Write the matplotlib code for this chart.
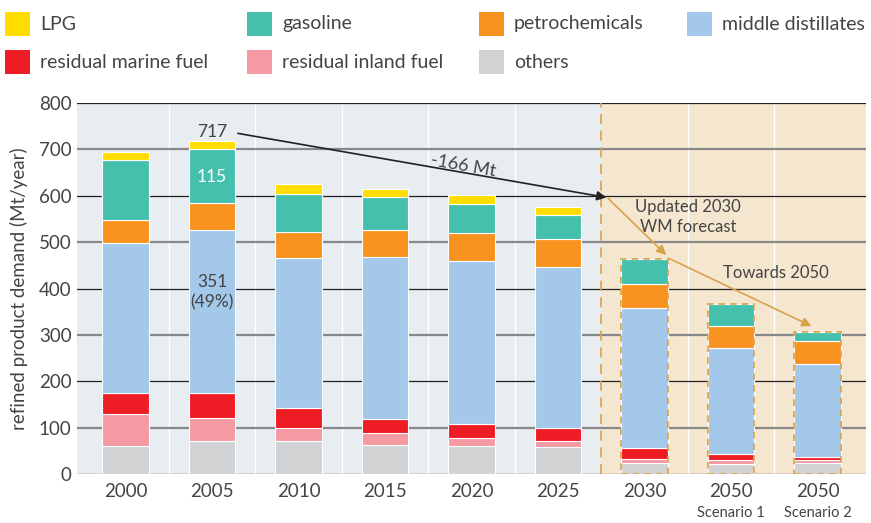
import matplotlib.pyplot as plt
from matplotlib.patches import Rectangle

# data (Mt/year)
years = ["2000", "2005", "2010", "2015", "2020", "2025", "2030", "2050", "2050"]
others = [62, 72, 71, 64, 62, 58, 24, 22, 24]
res_inland = [68, 50, 28, 24, 16, 13, 8, 9, 7]
res_marine = [46, 52, 44, 30, 30, 28, 24, 12, 7]
middle_dist = [321, 351, 323, 349, 351, 347, 301, 228, 199]
petrochem = [50, 60, 55, 60, 61, 61, 53, 48, 51]
gasoline = [129, 115, 83, 70, 63, 51, 54, 47, 18]
lpg = [18, 17, 21, 17, 18, 18, 0, 0, 0]

series = [
    ("others", others, "#d1d2d4"),
    ("residual inland fuel", res_inland, "#f599a3"),
    ("residual marine fuel", res_marine, "#ee1c25"),
    ("middle distillates", middle_dist, "#a3c8ea"),
    ("petrochemicals", petrochem, "#f7931e"),
    ("gasoline", gasoline, "#45c0ad"),
    ("LPG", lpg, "#ffdd00"),
]

plt.rcParams['font.family'] = ['Lato', 'DejaVu Sans']
txt = "#444444"
orange = "#d9a24a"

W, H = 871, 523
fig = plt.figure(figsize=(W / 100, H / 100), dpi=100)
ax = fig.add_axes([0.0884, 0.0931, 0.9059, 0.7105])

x = list(range(len(years)))
ax.set_xlim(-0.56, 8.56)
ax.set_ylim(0, 800)

# backgrounds
ax.axvspan(-0.56, 5.5, color="#e8edf1", zorder=0, lw=0)
ax.axvspan(5.5, 8.56, color="#f5e6d0", zorder=0, lw=0)
for xv in [0.5, 1.5, 2.5, 3.5, 4.5, 6.5, 7.5]:
    ax.axvline(xv, color="white", lw=1, zorder=0.5)
for yv in range(0, 801, 100):
    if yv % 200 == 0:
        ax.axhline(yv, color="#222222", lw=0.9, zorder=1)
    else:
        ax.axhline(yv, color="#888888", lw=1.6, zorder=1)

bottom = [0] * len(years)
for name, vals, col in series:
    ax.bar(x, vals, width=0.54, bottom=bottom, color=col, edgecolor="white",
           linewidth=0.8, zorder=2)
    bottom = [b + v for b, v in zip(bottom, vals)]

# dashed outline around forecast bars
for i in range(6, 9):
    ax.bar(i, bottom[i], width=0.54, fill=False, edgecolor=orange,
           linewidth=1.2, linestyle=(0, (4, 3)), zorder=3)

ax.axvline(5.5, color=orange, lw=1.2, linestyle=(0, (6, 4)), zorder=3)

# annotations
ax.text(1, 738, "717", ha="center", va="center", fontsize=12.5, color=txt, zorder=4)
ax.text(1, 641, "115", ha="center", va="center", fontsize=12.5, color="white", zorder=4)
ax.text(1, 392, "351\n(49%)", ha="center", va="center", fontsize=12.5, color=txt,
        linespacing=1.3, zorder=4)
ax.annotate("", xy=(5.56, 596), xytext=(1.30, 734),
            arrowprops=dict(arrowstyle="-|>", color="#222222", lw=1.2,
                            mutation_scale=14, shrinkA=0, shrinkB=0), zorder=4)
ax.text(3.91, 664, "-166 Mt", ha="center", va="center", fontsize=13, color=txt,
        rotation=-10, zorder=4)
ax.annotate("", xy=(6.25, 472), xytext=(5.58, 594),
            arrowprops=dict(arrowstyle="-|>", color=orange, lw=1.2,
                            mutation_scale=14, shrinkA=0, shrinkB=0), zorder=4)
ax.annotate("", xy=(7.93, 319), xytext=(6.28, 465),
            arrowprops=dict(arrowstyle="-|>", color=orange, lw=1.2,
                            mutation_scale=14, shrinkA=0, shrinkB=0), zorder=4)
ax.text(6.5, 553, "Updated 2030\nWM forecast", ha="center", va="center",
        fontsize=12, color=txt, linespacing=1.3, zorder=4)
ax.text(7.52, 434, "Towards 2050", ha="center", va="center", fontsize=12,
        color=txt, zorder=4)

# axes styling
for s in ax.spines.values():
    s.set_visible(False)
ax.set_xticks(x)
ax.set_xticklabels(years, fontsize=13.5, color=txt)
ax.set_yticks(range(0, 801, 100))
ax.tick_params(axis="y", labelsize=13.5, labelcolor=txt, length=0, pad=4)
ax.tick_params(axis="x", length=0, pad=6)
ax.set_ylabel("refined product demand (Mt/year)", fontsize=13.5, color=txt, labelpad=8)
for i, lab in [(7, "Scenario 1"), (8, "Scenario 2")]:
    ax.text(i, -0.105, lab, transform=ax.get_xaxis_transform(), ha="center",
            va="center", fontsize=10.5, color=txt)

# legend, laid out by hand in pixel positions
cols = dict((n, c) for n, v, c in series)
leg_items = [("LPG", 5, 24), ("gasoline", 247, 24), ("petrochemicals", 479, 24),
             ("middle distillates", 687, 24), ("residual marine fuel", 5, 62),
             ("residual inland fuel", 247, 62), ("others", 479, 62)]
for name, px, py in leg_items:
    fig.add_artist(Rectangle((px / W, 1 - (py + 12) / H), 25 / W, 24 / H,
                             transform=fig.transFigure, color=cols[name], lw=0))
    fig.text((px + 35) / W, 1 - py / H, name, ha="left", va="center",
             fontsize=14, color=txt)

fig.savefig("out.png", dpi=100)
